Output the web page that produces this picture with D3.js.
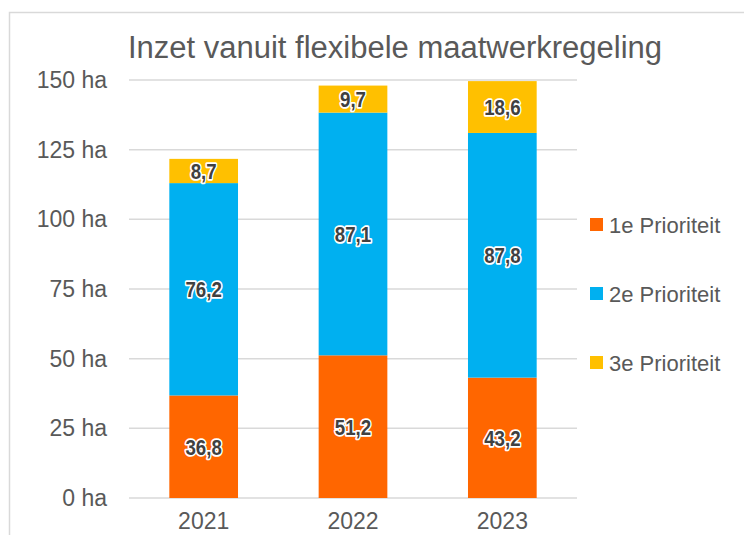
<!DOCTYPE html>
<html>
<head>
<meta charset="utf-8">
<script src="https://cdn.jsdelivr.net/npm/d3@7"></script>
<style>
  body { margin: 0; background: #fff; }
  svg text { font-family: "Liberation Sans", Arial, sans-serif; }
</style>
</head>
<body>
<div id="chart"></div>
<script>
var years = ["2021", "2022", "2023"];
var series = ["1e Prioriteit", "2e Prioriteit", "3e Prioriteit"];
var prio1 = [36.8, 51.2, 43.2];
var prio2 = [76.2, 87.1, 87.8];
var prio3 = [8.7, 9.7, 18.6];
var yTicks = [0, 25, 50, 75, 100, 125, 150];
var colors = ["#FF6600", "#00B0F0", "#FFC000"];

var W = 744, H = 535;
var margin = { top: 80, left: 129, right: 167, bottom: 37 };
var width = W - margin.left - margin.right,
    height = H - margin.top - margin.bottom;

var svg = d3.select("#chart").append("svg")
    .attr("width", W)
    .attr("height", H);

// chart frame
svg.append("path")
    .attr("d", "M9.5," + H + "V12.5H" + W)
    .attr("fill", "none")
    .attr("stroke", "#d9d9d9")
    .attr("stroke-width", 1.5);

svg.append("text")
    .attr("x", 395)
    .attr("y", 58)
    .attr("text-anchor", "middle")
    .attr("font-size", 31)
    .attr("fill", "#595959")
    .text("Inzet vanuit flexibele maatwerkregeling");

var g = svg.append("g")
    .attr("transform", "translate(" + margin.left + "," + margin.top + ")");

var x = d3.scaleBand().domain(years).range([0, width]).paddingInner(0.54).paddingOuter(0.27);
var y = d3.scaleLinear().domain([0, 150]).range([height, 0]);

// gridlines
g.selectAll(".grid")
    .data(yTicks)
    .enter().append("line")
    .attr("x1", 0).attr("x2", width)
    .attr("y1", function(d) { return y(d); })
    .attr("y2", function(d) { return y(d); })
    .attr("stroke", "#d9d9d9")
    .attr("stroke-width", 1.5);

var yAxis = g.append("g")
    .call(d3.axisLeft(y).tickValues(yTicks).tickSize(0).tickPadding(22)
        .tickFormat(function(d) { return d + " ha"; }));
yAxis.select(".domain").remove();
yAxis.selectAll("text").attr("font-size", 23).attr("fill", "#595959")
    .style("font-family", "Liberation Sans, Arial, sans-serif");

var xAxis = g.append("g")
    .attr("transform", "translate(0," + height + ")")
    .call(d3.axisBottom(x).tickSize(0).tickPadding(15));
xAxis.select(".domain").remove();
xAxis.selectAll("text").attr("font-size", 23).attr("fill", "#595959")
    .style("font-family", "Liberation Sans, Arial, sans-serif");

var table = years.map(function(yr, i) {
    return { year: yr, "1e Prioriteit": prio1[i], "2e Prioriteit": prio2[i], "3e Prioriteit": prio3[i] };
});
var stacked = d3.stack().keys(series)(table);

var layers = g.selectAll(".layer")
    .data(stacked)
    .enter().append("g")
    .attr("fill", function(d, i) { return colors[i]; });

layers.selectAll("rect")
    .data(function(d) { return d; })
    .enter().append("rect")
    .attr("x", function(d) { return x(d.data.year); })
    .attr("width", x.bandwidth())
    .attr("y", function(d) { return y(d[1]); })
    .attr("height", function(d) { return y(d[0]) - y(d[1]); });

// data labels with white halo, squeezed a bit to look condensed
layers.selectAll(".lbl")
    .data(function(d) { return d; })
    .enter().append("text")
    .attr("transform", function(d) {
        var cx = x(d.data.year) + x.bandwidth() / 2,
            cy = (y(d[0]) + y(d[1])) / 2;
        return "translate(" + cx + "," + cy + ") scale(0.85,1)";
    })
    .attr("dy", "0.36em")
    .attr("text-anchor", "middle")
    .attr("font-size", 22)
    .attr("font-weight", "bold")
    .attr("fill", "#404040")
    .attr("stroke", "#fff")
    .attr("stroke-width", 3.5)
    .attr("stroke-linejoin", "round")
    .attr("paint-order", "stroke")
    .text(function(d) { return d3.format(".1f")(d[1] - d[0]).replace(".", ","); });

// legend
var legend = svg.selectAll(".legend")
    .data(series)
    .enter().append("g")
    .attr("transform", function(d, i) { return "translate(590," + (225 + i * 69) + ")"; });

legend.append("rect")
    .attr("x", 0).attr("y", -7)
    .attr("width", 13).attr("height", 13)
    .attr("fill", function(d, i) { return colors[i]; });

legend.append("text")
    .attr("x", 19)
    .attr("dy", "0.36em")
    .attr("font-size", 22)
    .attr("fill", "#595959")
    .text(function(d) { return d; });
</script>
</body>
</html>
